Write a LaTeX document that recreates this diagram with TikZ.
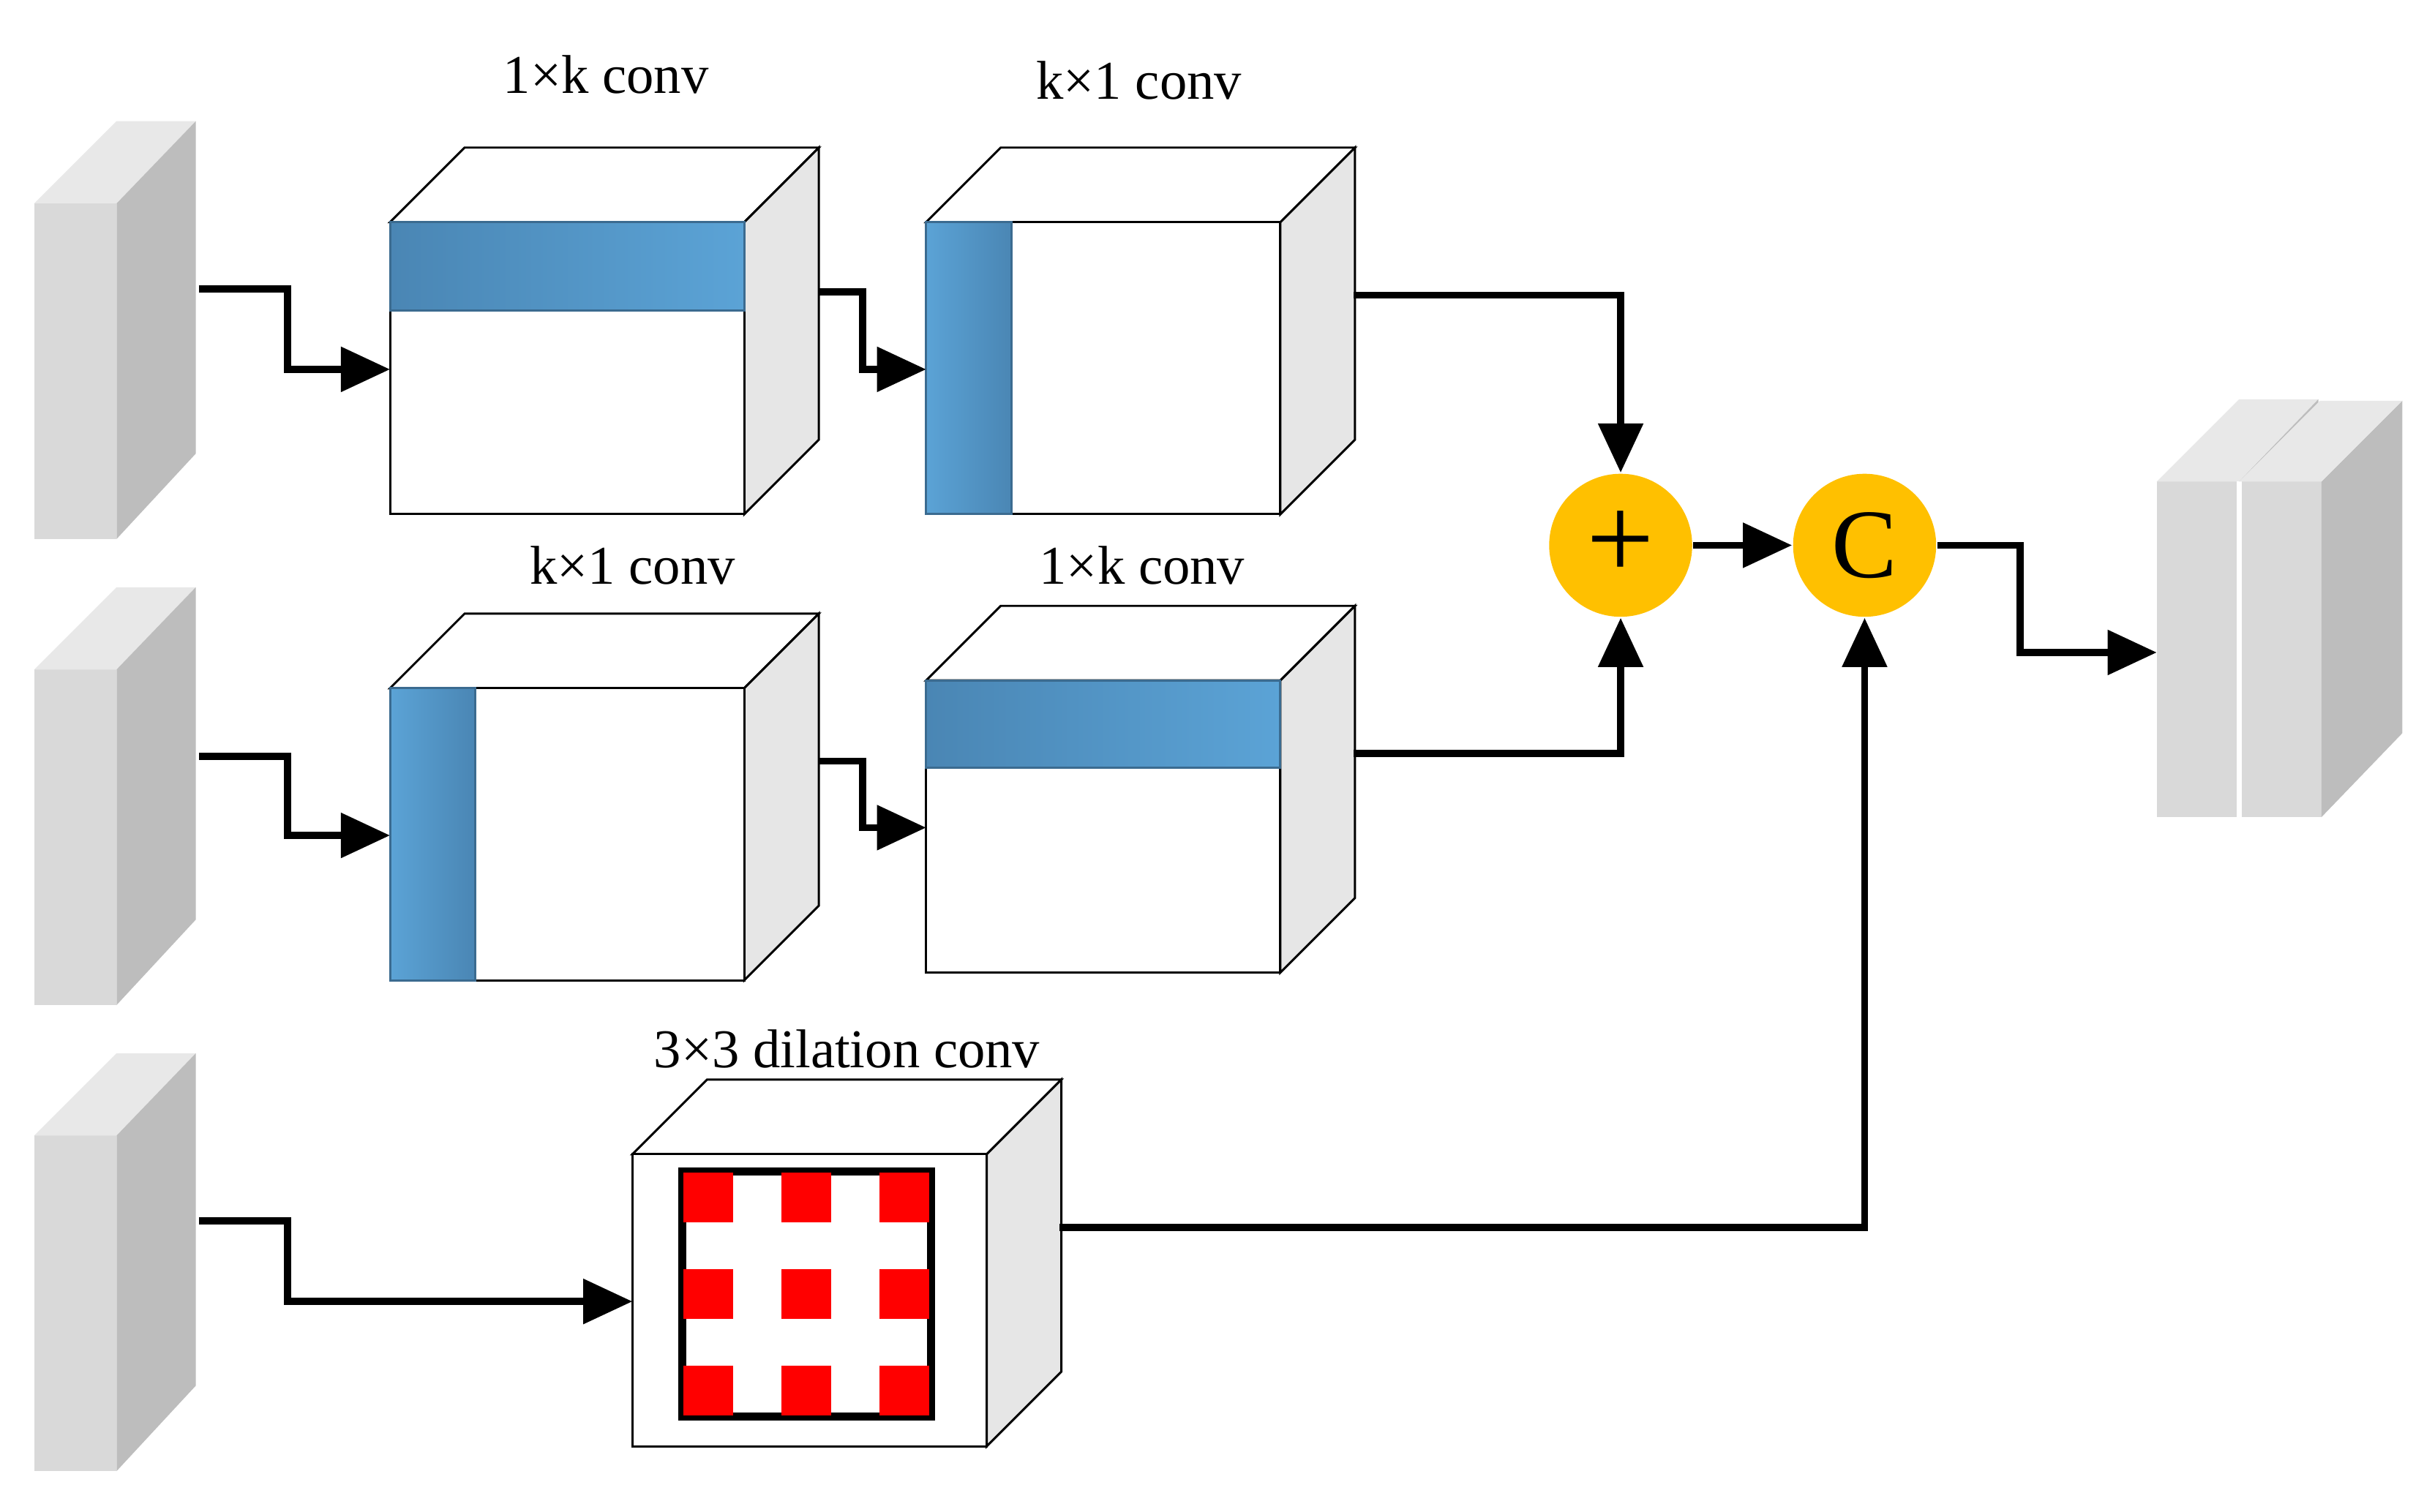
\documentclass[tikz,border=0pt]{standalone}
\usepackage{fontspec}
\setmainfont{Liberation Serif}
\usetikzlibrary{arrows.meta}
\definecolor{slabF}{HTML}{D9D9D9}
\definecolor{slabT}{HTML}{E8E8E8}
\definecolor{slabS}{HTML}{BDBDBD}
\definecolor{cubeS}{HTML}{E6E6E6}
\definecolor{barL}{HTML}{4A86B4}
\definecolor{barR}{HTML}{5BA3D6}
\definecolor{gold}{HTML}{FFC000}
\begin{document}
\begin{tikzpicture}[x=0.01cm,y=-0.01cm,
 arr/.style={line width=1.3pt,-{Triangle[length=9pt,width=8pt]}},
 lbl/.style={font=\fontsize{10}{12}\selectfont},
 circ/.style={circle,fill=gold,minimum size=0.92cm,inner sep=0pt}]
\useasboundingbox (0,0) rectangle (1560,973);
% slabs
\newcommand{\myslab}[2]{%
 \fill[slabF] (#1,#2) rectangle ++(53,216);
 \fill[slabT] (#1,#2) -- ++(53,-53) -- ++(51,0) -- ++(-51,53) -- cycle;
 \fill[slabS] (#1+53,#2) -- ++(51,-53) -- ++(0,214) -- ++(-51,55) -- cycle;}
\myslab{22}{131}
\myslab{22}{431}
\myslab{22}{731}
\myslab{1388}{310}
\fill[slabF] (1441,310) rectangle ++(53,216);
\draw[white,line width=1pt] (1441,310) -- (1441,526);
\fill[slabS] (1494,310) -- ++(52,-52) -- ++(0,214) -- ++(-52,54) -- cycle;
\fill[slabT] (1441,310) -- ++(52,-52) -- ++(53,0) -- ++(-52,52) -- cycle;
\coordinate (s1) at (128,186); \coordinate (s2) at (128,487); \coordinate (s3) at (128,786);
\coordinate (out) at (1388,420);
% cubes
\newcommand{\mycube}[3]{%
 \draw[fill=white] (#1,#2) -- ++(48,-48) -- ++(228,0) -- ++(-48,48) -- cycle;
 \draw[fill=cubeS] (#1+228,#2) -- ++(48,-48) -- ++(0,188) -- ++(-48,48) -- cycle;
 \draw[fill=white] (#1,#2) rectangle ++(228,188);
 \node[inner sep=0,minimum width=2.28cm,minimum height=1.88cm,anchor=north west] (#3) at (#1,#2) {};}
\mycube{251}{143}{c1}
\mycube{596}{143}{c2}
\mycube{251}{443}{c3}
\mycube{596}{438}{c4}
\mycube{407}{743}{c5}
\shade[left color=barL,right color=barR,draw=barL!80!black] (251,143) rectangle (479,200);
\shade[left color=barR,right color=barL,draw=barL!80!black] (596,143) rectangle (651,331);
\shade[left color=barR,right color=barL,draw=barL!80!black] (251,443) rectangle (306,631);
\shade[left color=barL,right color=barR,draw=barL!80!black] (596,438) rectangle (824,494);
\draw[line width=1.5pt] (439,754) rectangle (599,912);
\foreach \x in {456,519,582}\foreach \y in {771,833,895}
 \fill[red] (\x-16,\y-16) rectangle ++(32,32);
% labels
\node[lbl] at (390,48) {1×k conv};
\node[lbl] at (733,52) {k×1 conv};
\node[lbl] at (407,364) {k×1 conv};
\node[lbl] at (735,364) {1×k conv};
\node[lbl] at (545,675) {3×3 dilation conv};
% circles
\node[circ,font=\fontsize{22}{24}\selectfont] (plus) at (1043,351) {+};
\node[circ,font=\fontsize{18}{20}\selectfont] (cc) at (1200,351) {C};
% arrows
\draw[arr] (s1) -- (185,186) |- (c1.west);
\draw[arr] (527,188) -- (555,188) |- (c2.west);
\draw[arr] (871,190) -| (plus.north);
\draw[arr] (s2) -- (185,487) |- (c3.west);
\draw[arr] (527,490) -- (555,490) |- (c4.west);
\draw[arr] (871,485) -| (plus.south);
\draw[arr] (s3) -- (185,786) |- (c5.west);
\draw[arr] (682,790) -| (cc.south);
\draw[arr] (plus.east) -- (cc.west);
\draw[arr] (cc.east) -- (1300,351) |- (out);
\end{tikzpicture}
\end{document}
